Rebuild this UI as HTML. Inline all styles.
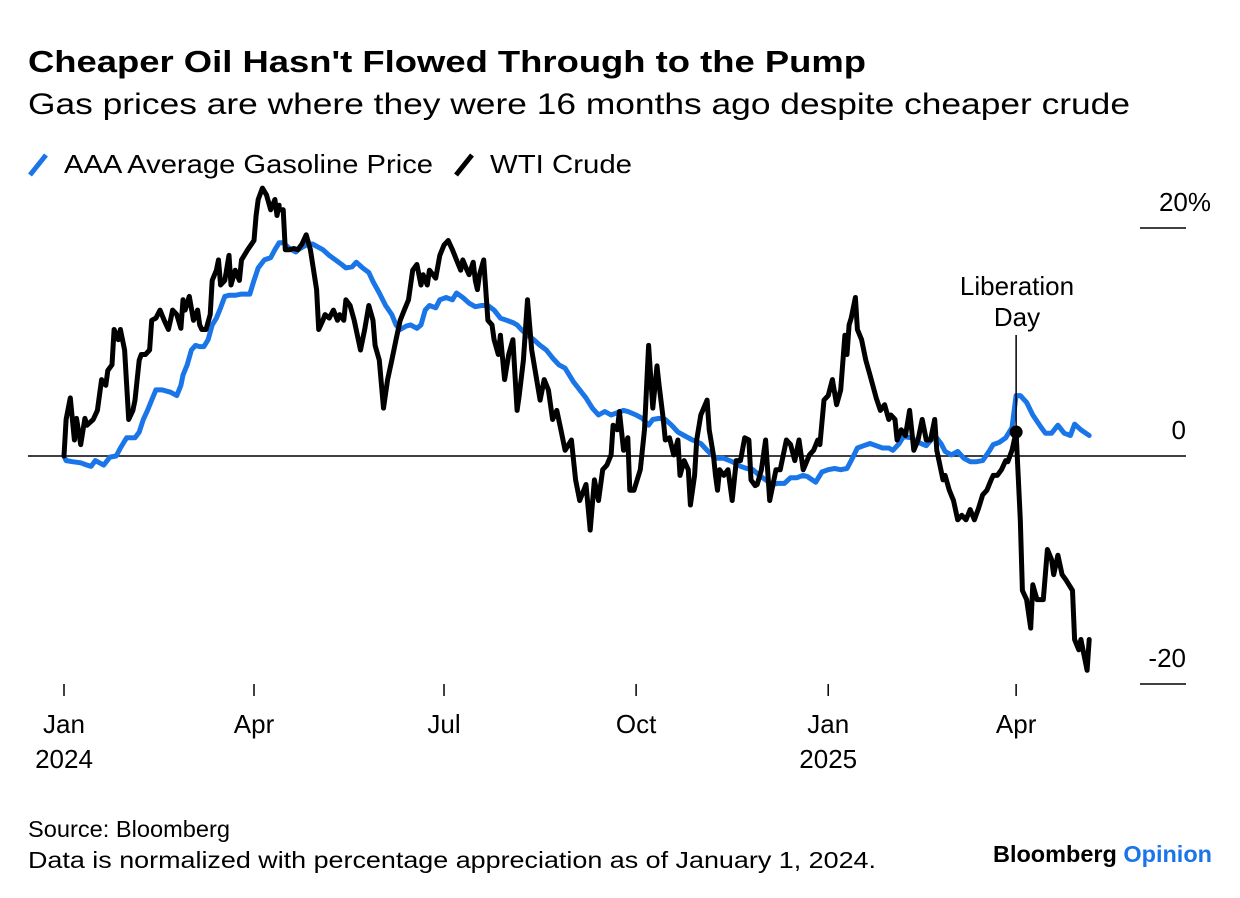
<!DOCTYPE html>
<html><head><meta charset="utf-8">
<style>
body{margin:0;background:#fff;width:1240px;height:898px;overflow:hidden;font-family:"Liberation Sans",sans-serif;}
svg{display:block}
</style></head>
<body>
<svg id="chart" width="1240" height="898">
<text x="28" y="72" font-size="31" font-weight="bold" fill="#000" textLength="838" lengthAdjust="spacingAndGlyphs">Cheaper Oil Hasn't Flowed Through to the Pump</text>
<text x="28" y="114" font-size="30" fill="#000" textLength="1102" lengthAdjust="spacingAndGlyphs">Gas prices are where they were 16 months ago despite cheaper crude</text>
<g>
<line x1="30" y1="175" x2="46" y2="155" stroke="#1a75e8" stroke-width="5"/>
<text x="64" y="173" font-size="26" textLength="369" lengthAdjust="spacingAndGlyphs">AAA Average Gasoline Price</text>
<line x1="456" y1="175" x2="472" y2="155" stroke="#000" stroke-width="5"/>
<text x="490" y="173" font-size="26" textLength="142" lengthAdjust="spacingAndGlyphs">WTI Crude</text>
</g>
<g id="axes"></g>
<g id="series"></g>
<g>
<text x="1017" y="295" font-size="26" text-anchor="middle">Liberation</text>
<text x="1017" y="326" font-size="26" text-anchor="middle">Day</text>
</g>
<text x="28" y="837" font-size="23" textLength="202" lengthAdjust="spacingAndGlyphs">Source: Bloomberg</text>
<text x="28" y="868" font-size="23" textLength="848" lengthAdjust="spacingAndGlyphs">Data is normalized with percentage appreciation as of January 1, 2024.</text>
<text x="993" y="862" font-size="23" font-weight="bold" textLength="219" lengthAdjust="spacingAndGlyphs">Bloomberg <tspan fill="#1a75e8">Opinion</tspan></text>
</svg>
<script>
const wtiDays=[0,1,3,5,6,8,10,11,14,16,18,20,21,23,24,26,27,29,31,33,34,36,37,39,41,42,44,46,48,50,51,52,54,56,57,58,60,62,64,65,66,68,70,71,73,74,75,77,79,80,82,84,85,88,91,92,93,95,97,99,101,102,103,103,105,106,108,110,112,114,116,118,121,122,124,125,127,129,131,132,134,135,137,139,142,144,146,148,149,151,153,155,157,159,161,163,165,167,169,171,172,174,175,178,180,182,184,186,188,190,191,193,194,196,197,198,199,201,203,205,206,208,209,211,213,215,217,218,220,222,224,226,228,230,232,234,236,238,240,243,245,247,250,252,254,256,258,260,262,263,265,266,268,270,271,273,276,278,280,282,284,285,287,288,290,292,294,295,297,299,300,302,303,305,308,309,311,312,313,314,316,318,320,322,324,326,328,329,331,332,334,336,338,340,341,343,346,348,350,352,354,355,357,359,361,362,364,366,368,370,372,374,375,376,377,379,380,382,384,386,389,391,393,395,396,398,399,401,403,405,407,409,411,413,415,417,418,421,422,424,426,428,430,432,434,436,438,440,442,444,445,447,449,451,452,454,456,458,459,461,463,464,466,468,469,471,473,474,476,478,480,483,484,486,487,490,491];
const wtiValues=[0,3.2,5.1,1.4,3.3,1.0,3.3,2.7,3.2,4.0,6.7,6.2,7.5,8.0,11.1,10.2,11.1,9.3,3.2,4.0,4.9,8.4,8.9,8.9,9.3,11.9,12.1,12.8,11.9,11.1,11.9,12.8,12.4,11.2,13.7,12.8,14.0,11.9,12.8,11.5,11.1,11.1,12.4,15.4,16.3,17.2,15.0,15.4,17.6,15.0,16.3,15.4,17.2,18.1,18.9,21.1,22.5,23.5,22.9,21.6,22.5,21.1,22.0,21.6,21.6,18.1,18.1,18.2,18.1,18.6,19.4,18.1,14.6,11.1,11.9,12.4,12.1,12.8,11.9,12.4,11.9,13.7,13.2,11.9,9.3,11.1,13.2,11.9,9.7,8.4,4.2,6.7,8.4,10.2,11.9,12.8,13.7,16.3,16.8,15.0,15.9,15.0,16.3,15.6,17.6,18.5,18.9,18.1,17.2,16.3,17.2,16.3,15.9,17.0,15.4,14.6,15.9,17.2,11.9,11.5,10.2,8.9,10.6,6.7,8.9,10.2,4.0,5.3,8.4,13.7,9.3,7.1,4.9,6.7,5.8,3.2,4.0,2.3,0.5,1.4,-2.1,-3.9,-2.5,-6.5,-2.1,-3.9,-1.2,-0.8,0.1,2.7,2.3,3.9,0.5,1.6,-3.0,-3.0,-1.2,2.3,9.7,4.2,7.9,6.2,3.2,1.4,1.6,0.1,1.4,-1.7,-0.4,-1.2,-4.3,-1.7,1.4,3.6,4.9,2.3,0.1,-1.7,-3.0,-1.2,-1.7,-1.2,-3.9,-0.4,-0.4,1.6,1.4,-2.1,-2.6,-2.5,-1.2,1.4,-3.9,-2.1,-1.2,-1.2,1.4,1.0,-0.4,1.4,-1.2,-0.8,0.1,0.5,1.4,1.0,4.9,5.3,6.7,4.5,5.8,10.6,8.9,11.5,12.1,13.9,11.1,10.2,8.4,7.1,5.1,4.0,4.5,3.2,3.6,3.2,1.4,2.3,1.8,4.0,0.5,1.4,3.2,1.4,1.4,3.2,0.5,-2.1,-1.7,-3.0,-3.9,-5.6,-5.2,-5.6,-4.7,-5.6,-4.6,-3.4,-3.0,-2.1,-1.7,-1.7,-1.2,-0.4,-0.5,0.5,2.1,-5.6,-11.8,-12.6,-15.1,-11.3,-12.6,-12.6,-12.6,-8.2,-9.1,-10.4,-8.7,-10.4,-10.9,-11.8,-16.1,-17.0,-16.1,-18.8,-16.1];
const gasDays=[0,1,4,8,11,13,15,17,19,22,25,27,30,34,36,38,40,42,44,47,51,54,56,57,59,61,63,65,67,69,71,73,75,77,79,82,85,89,91,93,96,99,101,103,105,108,111,113,116,119,122,124,127,130,133,135,138,140,143,146,148,151,154,157,159,161,164,166,169,171,173,175,178,180,183,186,188,191,194,197,200,203,206,209,212,215,217,219,222,225,228,231,234,237,240,244,247,250,253,256,259,262,265,268,270,274,277,280,282,285,288,291,294,297,301,305,308,312,316,320,324,327,330,333,336,339,342,345,348,351,354,356,360,363,366,369,372,375,377,380,383,386,389,392,395,397,400,402,406,409,413,417,420,422,425,428,431,434,437,440,443,445,448,451,454,456,458,461,464,468,470,473,476,479,482,484,487,491];
const gasValues=[0,-0.4,-0.5,-0.6,-0.8,-0.9,-0.4,-0.6,-0.8,-0.1,0,0.7,1.6,1.6,2.1,3.2,4.0,4.9,5.8,5.8,5.6,5.3,6.2,7.1,8.0,9.3,9.7,9.6,9.6,10.2,11.5,12.1,13.0,14.0,14.1,14.1,14.2,14.2,15.4,16.5,17.2,17.4,18.1,18.7,18.7,18.2,17.9,18.2,18.5,18.6,18.3,18.1,17.6,17.2,16.8,16.5,16.6,17.0,16.5,16.1,15.3,14.3,13.2,12.4,11.5,11.1,11.4,11.5,11.2,11.5,12.8,13.2,13.0,13.7,13.9,13.7,14.3,13.9,13.4,13.1,13.2,13.2,12.8,12.1,11.9,11.7,11.5,11.1,10.6,10.2,9.7,9.3,8.6,8.0,7.7,6.5,5.8,5.1,4.2,3.6,3.9,3.6,3.8,4.0,3.9,3.6,3.3,2.7,3.2,3.3,3.2,2.7,2.1,1.8,1.4,1.1,0.5,-0.2,-0.2,-0.5,-0.9,-1.1,-1.2,-1.7,-2.1,-2.5,-2.4,-2.4,-1.9,-1.9,-1.7,-1.8,-2.3,-1.4,-1.2,-1.1,-1.2,-1.1,-0.4,0.7,0.9,1.1,0.9,0.7,0.7,0.5,1.1,1.7,1.6,1.2,0.9,1.8,1.1,0.4,0.1,0.4,-0.2,-0.5,-0.5,-0.4,0.4,1.0,1.2,1.6,2.5,5.3,5.3,4.7,3.6,2.5,2.0,2.0,2.7,2.0,1.8,2.8,2.3,1.8];
const xTickDays=[0,91,182,274,366,456];
const xTickLabels=["Jan","Apr","Jul","Oct","Jan","Apr"];
const xTickYears=["2024","","","","2025",""];
const yTickValues=[20,0,-20];
const yTickLabels=["20%","0","-20"];
const annotationDay=456;
const annotationValue=2.1;

const NS="http://www.w3.org/2000/svg";
function xScale(d){return 64+d*2.088;}
function yScale(v){return 456-v*11.4;}
function mk(tag,attrs,parent){const e=document.createElementNS(NS,tag);for(const k in attrs)e.setAttribute(k,attrs[k]);parent.appendChild(e);return e;}
const axes=document.getElementById('axes');
const series=document.getElementById('series');

yTickValues.forEach((v,i)=>{
  const y=yScale(v);
  const ln=mk('line',{x1:v===0?28:1140,x2:1186,y1:y,y2:y,stroke:'#000','stroke-width':1.5},axes);
  
  
  const t=mk('text',{x:v===20?1211:1186,y:y-17,'font-size':26,'text-anchor':'end'},axes);
  t.textContent=yTickLabels[i];
  
  
});
xTickDays.forEach((d,i)=>{
  const x=xScale(d);
  const tk=mk('line',{x1:x,x2:x,y1:684,y2:696,stroke:'#000','stroke-width':1.5},axes);
  
  
  const t=mk('text',{x:x,y:733,'font-size':26,'text-anchor':'middle'},axes);
  t.textContent=xTickLabels[i];
  
  
  if(xTickYears[i]){
    const ty=mk('text',{x:x,y:768,'font-size':26,'text-anchor':'middle'},axes);
    ty.textContent=xTickYears[i];
    
    
  }
});
function pathFor(days,vals){return days.map((d,i)=>(i?'L':'M')+xScale(d).toFixed(1)+','+yScale(vals[i]).toFixed(1)).join(' ');}
const gasPath=mk('path',{d:pathFor(gasDays,gasValues),fill:'none',stroke:'#1a75e8','stroke-width':5,'stroke-linejoin':'round','stroke-linecap':'round'},series);


const wtiPath=mk('path',{d:pathFor(wtiDays,wtiValues),fill:'none',stroke:'#000','stroke-width':5,'stroke-linejoin':'round','stroke-linecap':'round'},series);


const ax=xScale(annotationDay), ay=yScale(annotationValue);
const al=mk('line',{x1:ax,x2:ax,y1:335,y2:ay,stroke:'#000','stroke-width':1.5},series);


const dot=mk('circle',{cx:ax,cy:ay,r:6.5,fill:'#000'},series);


</script>
</body></html>
